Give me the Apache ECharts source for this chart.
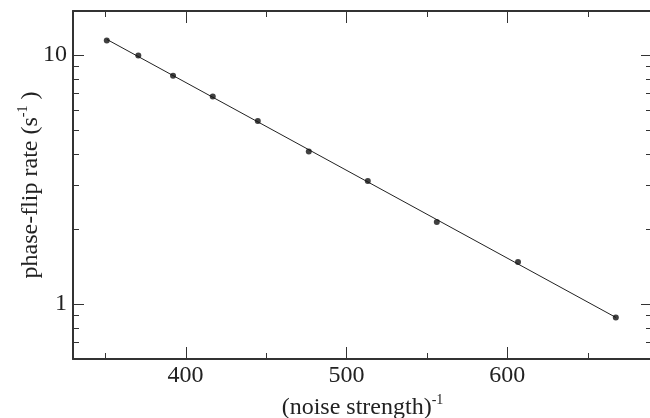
<!DOCTYPE html>
<html>
<head>
<meta charset="utf-8">
<script src="https://cdn.jsdelivr.net/npm/echarts@6/dist/echarts.min.js"></script>
<style>
html,body{margin:0;padding:0;background:#fff;}
#chart{width:650px;height:418px;}
</style>
</head>
<body>
<div id="chart"></div>
<script>
// Data
var inverseNoise = [351.0, 370.6, 392.2, 416.9, 444.9, 476.6, 513.3, 556.2, 606.7, 667.5];
var flipRate     = [11.43, 9.95, 8.25, 6.80, 5.42, 4.09, 3.11, 2.13, 1.47, 0.880];
var xMajorTicks = [400, 500, 600];
var xMinorTicks = [350, 450, 550, 650];
var yMajorTicks = [1, 10];
var yMinorTicks = [0.7, 0.8, 0.9, 2, 3, 4, 5, 6, 7, 8, 9];

// least-squares fit in log space (exponential fit line)
var n = inverseNoise.length, sx = 0, sy = 0, sxx = 0, sxy = 0;
for (var i = 0; i < n; i++) {
  var lx = inverseNoise[i], ly = Math.log10(flipRate[i]);
  sx += lx; sy += ly; sxx += lx * lx; sxy += lx * ly;
}
var slope = (n * sxy - sx * sy) / (n * sxx - sx * sx);
var icpt = (sy - slope * sx) / n;
var fitX = [inverseNoise[0], inverseNoise[n - 1]];
var fitData = fitX.map(function (x) { return [x, Math.pow(10, icpt + slope * x)]; });
var pts = inverseNoise.map(function (x, i) { return [x, flipRate[i]]; });

var FONT = 'Liberation Serif';
var AX = '#333';
var TXT = '#222';
var XMIN = 330, XMAX = 690, YMIN = 0.6, YMAX = 15;

var richStyles = {
  a: { fontFamily: FONT, fontSize: 24, color: TXT, lineHeight: 30 },
  sup: { fontFamily: FONT, fontSize: 14, color: TXT, verticalAlign: 'top' }
};

// tick data: [value, length]
var xTickData = xMajorTicks.map(function (v) { return [v, 12]; })
  .concat(xMinorTicks.map(function (v) { return [v, 6]; }));
var yTickData = yMajorTicks.map(function (v) { return [v, 11]; })
  .concat(yMinorTicks.map(function (v) { return [v, 6]; }));

function tickLine(x1, y1, x2, y2) {
  return { type: 'line', shape: { x1: x1, y1: y1, x2: x2, y2: y2 },
           style: { stroke: AX, lineWidth: 1 } };
}
function renderXTick(params, api) {
  var cs = params.coordSys;
  var len = api.value(1);
  var x = Math.round(api.coord([api.value(0), 1])[0]) + 0.5;
  var top = cs.y, bottom = cs.y + cs.height;
  return { type: 'group', children: [
    tickLine(x, bottom, x, bottom - len),
    tickLine(x, top, x, top + len)
  ] };
}
function renderYTick(params, api) {
  var cs = params.coordSys;
  var len = api.value(1);
  var y = Math.round(api.coord([400, api.value(0)])[1]) + 0.5;
  var left = cs.x, right = cs.x + cs.width;
  return { type: 'group', children: [
    tickLine(left, y, left + len, y),
    tickLine(right, y, right - len, y)
  ] };
}

var chart = echarts.init(document.getElementById('chart'), null, { renderer: 'canvas' });
chart.setOption({
  animation: false,
  backgroundColor: '#fff',
  grid: { left: 73, top: 11, right: -2, bottom: 59, containLabel: false, outerBoundsMode: 'none' },
  xAxis: [
    {
      type: 'value', position: 'bottom', min: XMIN, max: XMAX,
      axisLine: { show: true, lineStyle: { color: AX, width: 2 } },
      axisTick: { show: false },
      axisLabel: { customValues: xMajorTicks, fontFamily: FONT, fontSize: 24, color: TXT, margin: 5 },
      splitLine: { show: false },
      name: '{a|(noise strength)}{sup|-1}', nameLocation: 'middle', nameGap: 34,
      nameMoveOverlap: false,
      nameTextStyle: { fontFamily: FONT, color: TXT, rich: richStyles }
    },
    {
      type: 'value', position: 'top', min: XMIN, max: XMAX,
      axisLine: { show: true, lineStyle: { color: AX, width: 2 } },
      axisTick: { show: false }, axisLabel: { show: false }, splitLine: { show: false }
    }
  ],
  yAxis: [
    {
      type: 'log', logBase: 10, position: 'left', min: YMIN, max: YMAX,
      axisLine: { show: true, lineStyle: { color: AX, width: 2 } },
      axisTick: { show: false },
      axisLabel: { customValues: yMajorTicks, fontFamily: FONT, fontSize: 24, color: TXT, margin: 6 },
      splitLine: { show: false },
      name: '{a|phase-flip rate (s}{sup|-1}{a| )}', nameLocation: 'middle', nameGap: 27,
      nameMoveOverlap: false,
      nameTextStyle: { fontFamily: FONT, color: TXT, rich: richStyles }
    },
    {
      type: 'log', logBase: 10, position: 'right', min: YMIN, max: YMAX,
      axisLine: { show: true, lineStyle: { color: AX, width: 2 } },
      axisTick: { show: false }, axisLabel: { show: false }, splitLine: { show: false }
    }
  ],
  series: [
    {
      type: 'line', xAxisIndex: 0, yAxisIndex: 0, data: fitData,
      showSymbol: false, symbol: 'none',
      lineStyle: { color: '#222', width: 1 }, z: 2
    },
    {
      type: 'scatter', xAxisIndex: 0, yAxisIndex: 0, data: pts,
      symbol: 'circle', symbolSize: 6,
      itemStyle: { color: '#111' }, z: 3
    },
    {
      type: 'custom', xAxisIndex: 0, yAxisIndex: 0, data: xTickData,
      renderItem: renderXTick, clip: false, silent: true, z: 10,
      encode: { x: 0 }
    },
    {
      type: 'custom', xAxisIndex: 0, yAxisIndex: 0, data: yTickData,
      renderItem: renderYTick, clip: false, silent: true, z: 10,
      encode: { y: 0 }
    }
  ]
});
</script>
</body>
</html>
